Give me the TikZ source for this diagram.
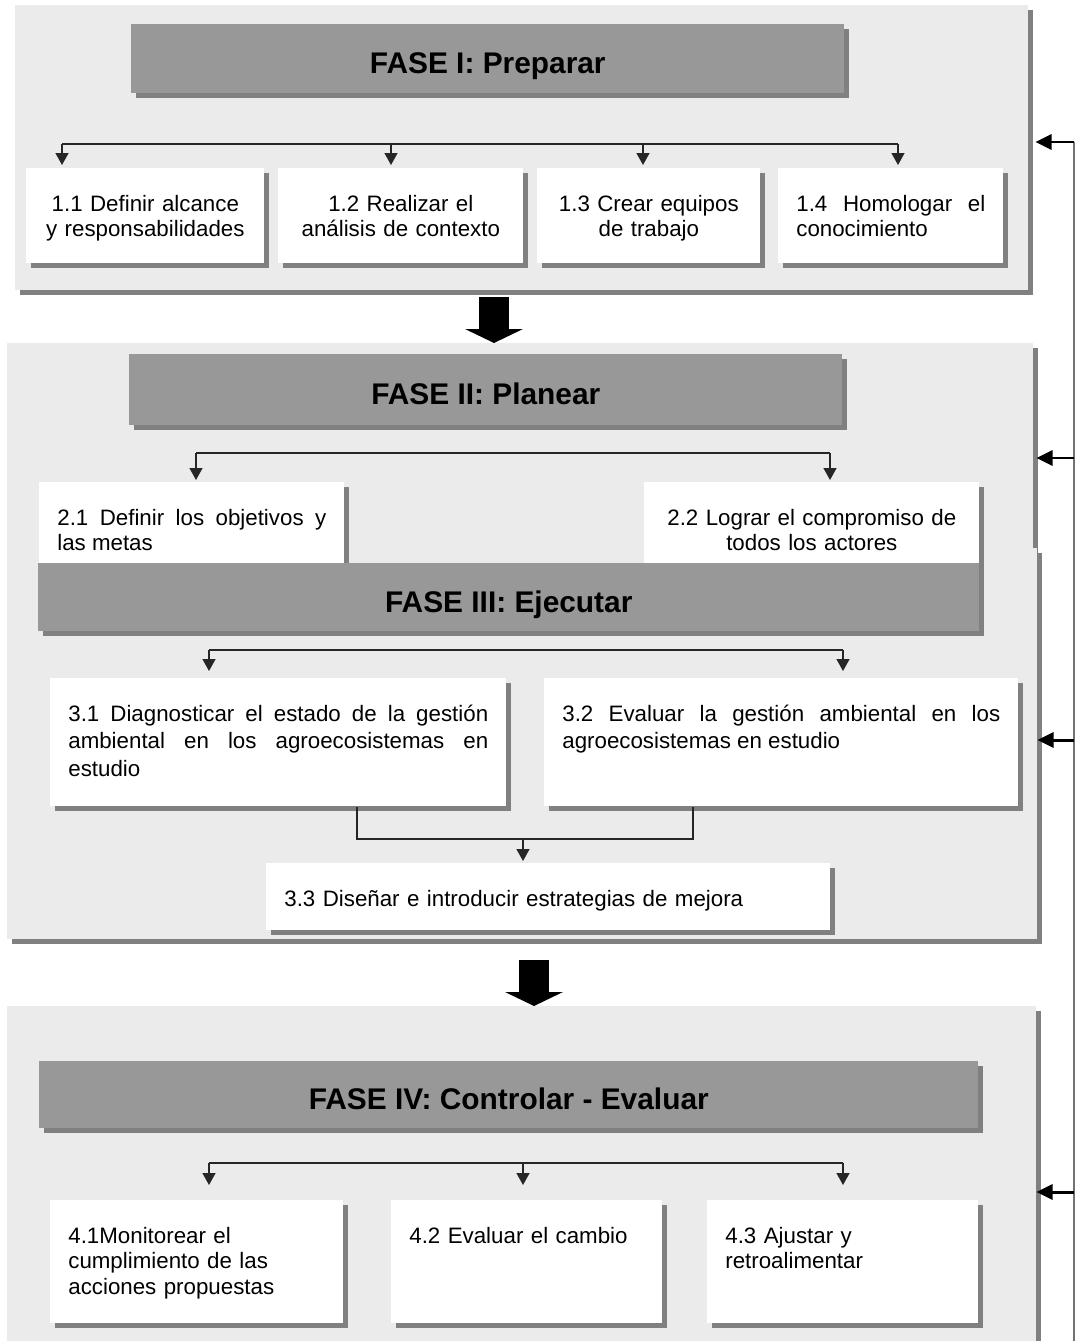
\documentclass[tikz,border=0pt]{standalone}
\usepackage{fontspec}
\setmainfont{Liberation Sans}
\usepackage{tikz}
\usetikzlibrary{arrows.meta}
\usetikzlibrary{shadows}
\usetikzlibrary{calc}

\definecolor{panelgray}{HTML}{EBEBEB}
\definecolor{headgray}{HTML}{989898}
\definecolor{shadegray}{HTML}{808080}

\begin{document}
\begin{tikzpicture}[x=0.02cm,y=-0.02cm]
        \tikzstyle{panel}=[anchor=north west, inner sep=0, fill=panelgray, drop shadow={shadow xshift=0.1cm, shadow yshift=-0.1cm, fill=shadegray, opacity=1}]
        \tikzstyle{head}=[anchor=north west, inner sep=0, fill=headgray, text height=16.8pt, text depth=0pt, font=\fontsize{17}{20}\selectfont\bfseries, drop shadow={shadow xshift=0.1cm, shadow yshift=-0.1cm, fill=shadegray, opacity=1}]
        \tikzstyle{task}=[anchor=north west, inner xsep=0.36cm, inner ysep=0, fill=white, text height=0.86cm, font=\fontsize{12.7}{14.5}\selectfont, drop shadow={shadow xshift=0.09cm, shadow yshift=-0.09cm, fill=shadegray, opacity=1}]
        \tikzstyle{branch}=[line width=0.8pt, black!85]
        \tikzstyle{feed}=[branch, -{Triangle[width=0.26cm,length=0.24cm]}]
        \tikzstyle{bigdown}=[line width=0.6cm, black, -{Triangle[width=1.16cm,length=0.28cm,line width=0pt]}]
        \tikzstyle{rail}=[line width=0.6pt, black!55]
        \tikzstyle{back}=[line width=1.7pt, black, -{Triangle[width=0.3cm,length=0.32cm]}]

        \useasboundingbox (0,0) rectangle (1076,1341);

        % FASE I
        \node (p1) [panel, minimum width=20.26cm, minimum height=5.7cm] at (15,5) {};
        \node (h1) [head, minimum width=14.26cm, minimum height=1.38cm] at (131,24) {FASE I: Preparar};

        \coordinate (f1a) at (62,144);
        \coordinate (f1b) at (898,144);
        \draw[branch] (f1a) -- (f1b);
        \node (t11) [task, align=center, text width=4.04cm, minimum width=4.76cm, text depth=1.04cm] at (26,168) {1.1 Definir alcance\\y responsabilidades};
        \node (t12) [task, align=center, text width=4.18cm, minimum width=4.9cm, text depth=1.04cm] at (278,168) {1.2 Realizar el\\análisis de contexto};
        \node (t13) [task, align=center, text width=3.74cm, minimum width=4.46cm, text depth=1.04cm] at (537,168) {1.3 Crear equipos\\de trabajo};
        \node (t14) [task, align=justify, text width=3.78cm, minimum width=4.5cm, text depth=1.04cm] at (778,168) {1.4 Homologar el\linebreak conocimiento};
        \foreach \x/\t in {62/t11,391/t12,643/t13,898/t14}
            \draw[feed, shorten >=0.06cm] (\x,144) -- (\x,0 |- \t.north);

        % FASE II y III
        \node (p2) [panel, minimum width=20.52cm, minimum height=4.1cm] at (7,343) {};
        \node (p3) [panel, minimum width=20.6cm, minimum height=7.82cm] at (7,548) {};
        \coordinate (a1) at (494,297);
        \draw[bigdown] (a1) -- (a1 |- p2.north);

        \node (h2) [head, minimum width=14.26cm, minimum height=1.42cm] at (129,354) {FASE II: Planear};
        \coordinate (f2a) at (196,453);
        \coordinate (f2b) at (830,453);
        \draw[branch] (f2a) -- (f2b);
        \node (t21) [task, align=justify, text width=5.38cm, minimum width=6.1cm, text depth=0.76cm] at (39,482) {2.1 Definir los objetivos y\linebreak las metas};
        \node (t22) [task, align=center, text width=5.98cm, minimum width=6.7cm, text depth=0.76cm] at (644,482) {2.2 Lograr el compromiso de\\todos los actores};
        \foreach \x/\t in {196/t21,830/t22}
            \draw[feed, shorten >=0.04cm] (\x,453) -- (\x,0 |- \t.north);

        \node (h3) [head, minimum width=18.82cm, minimum height=1.36cm] at (38,563) {FASE III: Ejecutar};
        \coordinate (f3a) at (209,650);
        \coordinate (f3b) at (843,650);
        \draw[branch] (f3a) -- (f3b);
        \node (t31) [task, align=justify, text width=8.4cm, minimum width=9.12cm, text depth=1.7cm, font=\fontsize{12.7}{15.6}\selectfont] at (50,678) {3.1 Diagnosticar el estado de la gestión\linebreak ambiental en los agroecosistemas en\linebreak estudio};
        \node (t32) [task, align=justify, text width=8.76cm, minimum width=9.48cm, text depth=1.7cm, font=\fontsize{12.7}{15.6}\selectfont] at (544,678) {3.2 Evaluar la gestión ambiental en los\linebreak agroecosistemas en estudio};
        \foreach \x/\t in {209/t31,843/t32}
            \draw[feed, shorten >=0.14cm] (\x,650) -- (\x,0 |- \t.north);

        \node (t33) [task, align=left, text width=10.56cm, minimum width=11.28cm, text depth=0.48cm] at (266,863) {3.3 Diseñar e introducir estrategias de mejora};
        \coordinate (m3) at (523,839);
        \draw[branch] (357,0 |- t31.south) -- (357,839) -- (693,839) -- (693,0 |- t32.south);
        \draw[feed, shorten >=0.04cm] (m3) -- (m3 |- t33.north);

        % FASE IV
        \node (p4) [panel, minimum width=20.58cm, minimum height=6.7cm] at (7,1006) {};
        \coordinate (a2) at (534,960);
        \draw[bigdown] (a2) -- (a2 |- p4.north);

        \node (h4) [head, minimum width=18.78cm, minimum height=1.34cm] at (39,1061) {FASE IV: Controlar - Evaluar};
        \coordinate (f4a) at (209,1163);
        \coordinate (f4b) at (843,1163);
        \draw[branch] (f4a) -- (f4b);
        \node (t41) [task, align=left, text width=5.14cm, minimum width=5.86cm, text depth=1.6cm] at (50,1200) {4.1Monitorear el\\cumplimiento de las\\acciones propuestas};
        \node (t42) [task, align=left, text width=4.7cm, minimum width=5.42cm, text depth=1.6cm] at (391,1200) {4.2 Evaluar el cambio};
        \node (t43) [task, align=left, text width=4.7cm, minimum width=5.42cm, text depth=1.6cm] at (707,1200) {4.3 Ajustar y\\retroalimentar};
        \foreach \x/\t in {209/t41,523/t42,843/t43}
            \draw[feed, shorten >=0.3cm] (\x,1163) -- (\x,0 |- \t.north);

        % retroalimentacion
        \coordinate (rt) at (1074,142);
        \coordinate (rb) at (1074,1341);
        \draw[rail] (rt) -- (rb);
        \foreach \y/\p/\s in {142/p1/0.14,458/p2/0.06,740/p3/0,1192/p4/0}
            \draw[back, shorten >=\s cm] (1074,\y) -- (\p.east |- 0,\y);
\end{tikzpicture}
\end{document}
